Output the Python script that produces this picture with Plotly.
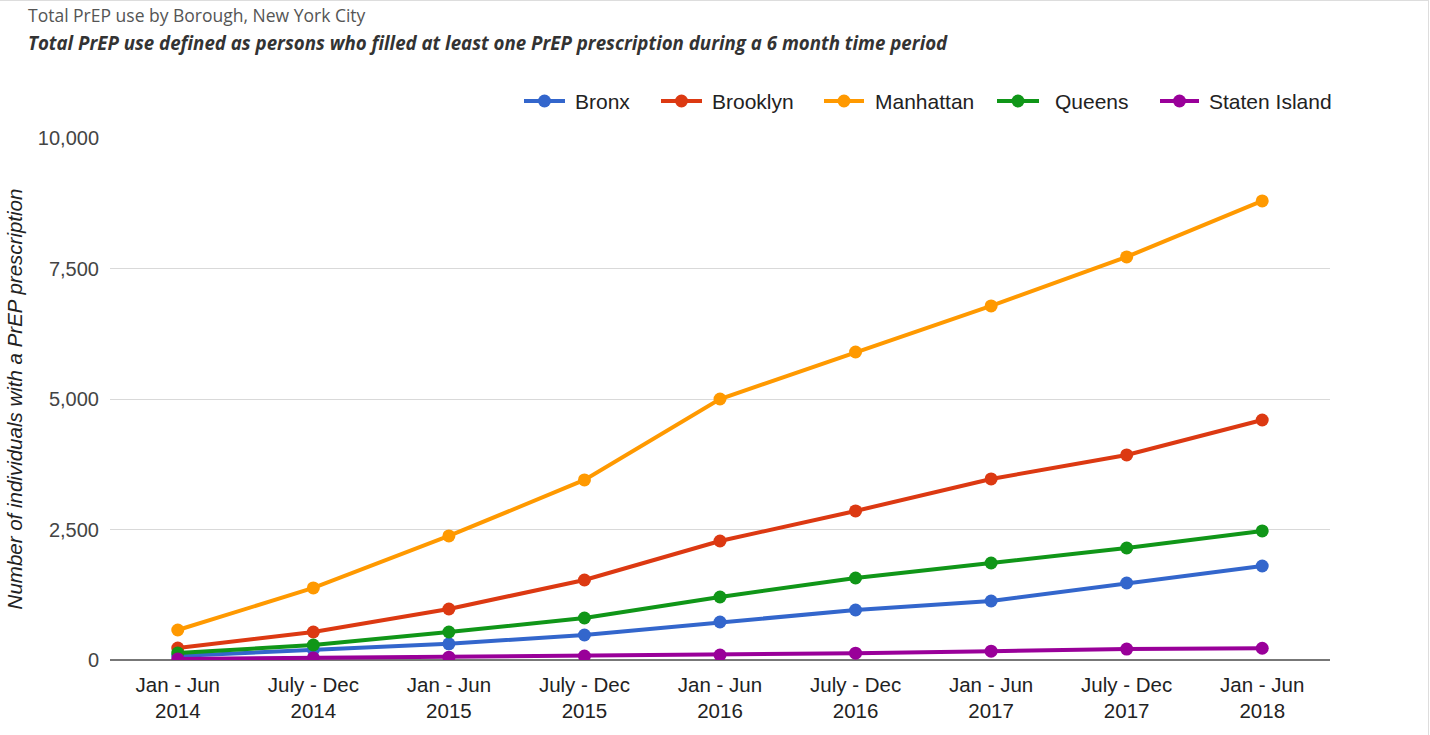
import plotly.graph_objects as go

# Half-year reporting periods
periods = ["Jan - Jun<br>2014", "July - Dec<br>2014", "Jan - Jun<br>2015", "July - Dec<br>2015",
           "Jan - Jun<br>2016", "July - Dec<br>2016", "Jan - Jun<br>2017", "July - Dec<br>2017",
           "Jan - Jun<br>2018"]

# Persons filling at least one PrEP prescription, by borough
bronx = [77, 200, 310, 479, 728, 958, 1130, 1475, 1801]
brooklyn = [230, 536, 977, 1533, 2280, 2855, 3468, 3928, 4598]
manhattan = [575, 1380, 2376, 3449, 5000, 5900, 6783, 7722, 8795]
queens = [134, 287, 536, 805, 1207, 1571, 1858, 2146, 2472]
staten_island = [20, 40, 55, 75, 95, 130, 170, 210, 225]

y_ticks = [0, 2500, 5000, 7500, 10000]

series = [
    ("Bronx", bronx, "#3366cc"),
    ("Brooklyn", brooklyn, "#dc3912"),
    ("Manhattan", manhattan, "#ff9900"),
    ("Queens", queens, "#109618"),
    ("Staten Island", staten_island, "#990099"),
]

fig = go.Figure()
for name, vals, color in series:
    fig.add_trace(go.Scatter(
        x=periods, y=vals, name=name, mode="lines+markers",
        line=dict(color=color, width=4),
        marker=dict(color=color, size=13),
        showlegend=False,
    ))

W, H = 1430, 735
ml, mr, mt, mb = 110, 100, 138, 75
pw, ph = W - ml - mr, H - mt - mb

def px_x(p):
    return (p - ml) / pw

def px_y(p):
    return (H - mb - p) / ph

annotations = [
    dict(text="Total PrEP use by Borough, New York City", xref="paper", yref="paper",
         x=px_x(26), y=px_y(15), xanchor="left", yanchor="middle", showarrow=False,
         font=dict(family="Open Sans, sans-serif", size=17.5, color="#555")),
    dict(text="<b><i>Total PrEP use defined as persons who filled at least one PrEP prescription during a 6 month time period</i></b>",
         xref="paper", yref="paper", x=px_x(26), y=px_y(42), xanchor="left",
         yanchor="middle", showarrow=False,
         font=dict(family="Open Sans, sans-serif", size=18.7, color="#333")),
]

shapes = [
    dict(type="line", xref="paper", yref="paper", x0=px_x(0), x1=px_x(1428),
         y0=px_y(0.5), y1=px_y(0.5), line=dict(color="#dddddd", width=1)),
    dict(type="line", xref="paper", yref="paper", x0=px_x(1428.5), x1=px_x(1428.5),
         y0=px_y(0), y1=px_y(735), line=dict(color="#dddddd", width=1)),
]

# Legend row: line-and-dot key followed by the borough name
legend_keys = [(524, 565, 573), (661, 702, 710), (824, 864, 873), (997, 1039, 1053), (1160, 1199, 1207)]
legend_y = 101
for (name, _, color), (x0, x1, xt) in zip(series, legend_keys):
    shapes.append(dict(type="line", xref="paper", yref="paper",
                       x0=px_x(x0), x1=px_x(x1), y0=px_y(legend_y), y1=px_y(legend_y),
                       line=dict(color=color, width=4)))
    xc = (x0 + x1) / 2
    shapes.append(dict(type="circle", xref="paper", yref="paper",
                       x0=px_x(xc - 6.5), x1=px_x(xc + 6.5),
                       y0=px_y(legend_y + 6.5), y1=px_y(legend_y - 6.5),
                       fillcolor=color, line=dict(width=0)))
    annotations.append(dict(text=name, xref="paper", yref="paper", x=px_x(xt), y=px_y(legend_y),
                            xanchor="left", yanchor="middle", showarrow=False,
                            font=dict(size=21, color="#222")))

fig.update_layout(
    width=W, height=H,
    margin=dict(l=ml, r=mr, t=mt, b=mb, pad=0),
    paper_bgcolor="white", plot_bgcolor="white",
    font=dict(family="Liberation Sans, Arial, sans-serif", size=20, color="#444"),
    showlegend=False,
    xaxis=dict(type="category", range=[-0.5, 8.5], showgrid=False, ticks="",
               tickfont=dict(size=20.5, color="#222"), zeroline=False, showline=False,
               ticklabelstandoff=10, fixedrange=True),
    yaxis=dict(range=[0, 10000], tickvals=y_ticks, tickformat=",d",
               gridcolor="#d9d9d9", gridwidth=1, zeroline=True, zerolinecolor="#777",
               zerolinewidth=1.5, ticks="", tickfont=dict(size=20, color="#444"),
               ticklabelstandoff=10,
               title=dict(text="<i>Number of individuals with a PrEP prescription</i>",
                          font=dict(size=20.5, color="#222"), standoff=9)),
    annotations=annotations,
    shapes=shapes,
)

fig.write_html("out.html")
